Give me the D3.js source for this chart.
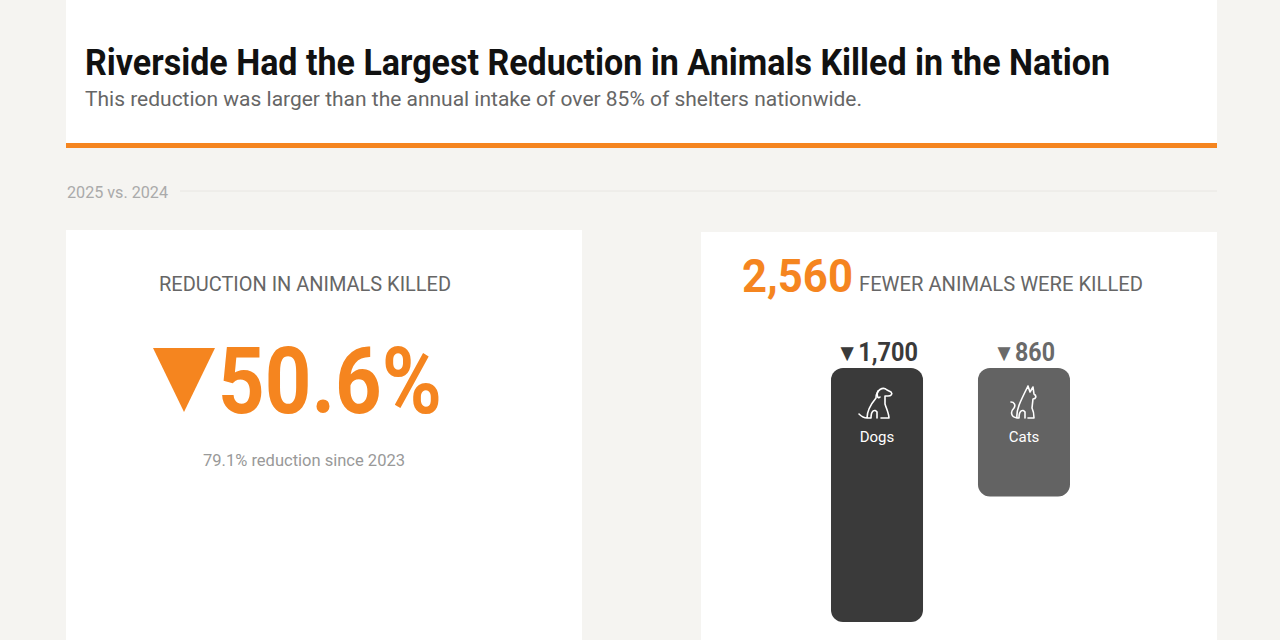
<!DOCTYPE html>
<meta charset="utf-8">
<style>
    body { margin: 0; background: #f5f4f1; }
    text { font-family: "Liberation Sans Narrow", "Roboto", sans-serif; }
</style>
<body>
<script src="https://d3js.org/d3.v7.min.js"></script>
<script>
    var categories = ["Dogs", "Cats"];
    var reductions = [1700, 860];
    var barColors = ["#3a3a3a", "#636363"];
    var labelColors = ["#3a3a3a", "#6a6a6a"];
    var totalReduction = 2560;
    var pctReduction = "50.6%";

    var width = 1280, height = 640;
    var svg = d3.select("body").append("svg")
        .attr("width", width).attr("height", height);

    svg.append("rect").attr("width", width).attr("height", height).attr("fill", "#f5f4f1");

    function fit(sel, len) {
        return sel.attr("textLength", len).attr("lengthAdjust", "spacingAndGlyphs");
    }

    // header
    svg.append("rect").attr("x", 66).attr("y", 0).attr("width", 1151).attr("height", 144).attr("fill", "#fff");
    svg.append("rect").attr("x", 66).attr("y", 143).attr("width", 1151).attr("height", 5).attr("fill", "#f5851f");
    fit(svg.append("text").attr("x", 85).attr("y", 75)
        .attr("font-size", 36).attr("font-weight", "bold").attr("fill", "#111")
        .text("Riverside Had the Largest Reduction in Animals Killed in the Nation"), 1025);
    fit(svg.append("text").attr("x", 85).attr("y", 106)
        .attr("font-size", 21).attr("fill", "#666")
        .text("This reduction was larger than the annual intake of over 85% of shelters nationwide."), 777);

    fit(svg.append("text").attr("x", 67).attr("y", 198).attr("font-size", 16).attr("fill", "#aaa").text("2025 vs. 2024"), 101);
    svg.append("line").attr("x1", 180).attr("x2", 1217).attr("y1", 191).attr("y2", 191)
        .attr("stroke", "#e8e6e2");

    // cards
    svg.append("rect").attr("x", 66).attr("y", 230).attr("width", 516).attr("height", 420).attr("fill", "#fff");
    svg.append("rect").attr("x", 701).attr("y", 232).attr("width", 516).attr("height", 420).attr("fill", "#fff");

    fit(svg.append("text").attr("x", 159).attr("y", 291)
        .attr("font-size", 20).attr("fill", "#666").text("REDUCTION IN ANIMALS KILLED"), 292);
    svg.append("path").attr("d", "M153,348 L215,348 L184,412 Z").attr("fill", "#f5851f");
    fit(svg.append("text").attr("x", 218).attr("y", 413)
        .attr("font-size", 92).attr("font-weight", "bold").attr("fill", "#f5851f").text(pctReduction), 224);
    fit(svg.append("text").attr("x", 203).attr("y", 466)
        .attr("font-size", 16).attr("fill", "#999").text("79.1% reduction since 2023"), 202);

    fit(svg.append("text").attr("x", 742).attr("y", 292).attr("font-size", 46).attr("font-weight", "bold")
        .attr("fill", "#f5851f").text(d3.format(",")(totalReduction)), 111);
    fit(svg.append("text").attr("x", 859).attr("y", 291).attr("font-size", 20).attr("fill", "#666")
        .text("FEWER ANIMALS WERE KILLED"), 284);

    // bars
    var x = d3.scaleBand().domain(categories).range([831, 1070]).paddingInner(0.374).paddingOuter(0);
    var y = d3.scaleLinear().domain([0, 1700]).range([0, 254]);
    var barTop = 368;

    categories.forEach(function(c, i) {
        var bx = x(c), bw = x.bandwidth(), cx = bx + bw / 2;
        svg.append("rect").attr("x", bx).attr("y", barTop).attr("width", bw)
            .attr("height", y(reductions[i])).attr("rx", 12).attr("fill", barColors[i]);
        var lab = svg.append("text").attr("x", cx).attr("y", 361).attr("text-anchor", "middle")
            .attr("font-size", 25).attr("font-weight", "bold").attr("fill", labelColors[i]);
        lab.append("tspan").attr("font-size", 24).text("▼");
        lab.append("tspan").text(d3.format(",")(reductions[i]));
        fit(lab, i === 0 ? 82 : 62);
        svg.append("text").attr("x", cx).attr("y", 442).attr("text-anchor", "middle")
            .attr("font-size", 15).attr("fill", "#fff").text(c);
        var g = svg.append("g").attr("transform", "translate(" + cx + ",404)")
            .attr("fill", "none").attr("stroke", "#fff").attr("stroke-width", 1.6)
            .attr("stroke-linecap", "round").attr("stroke-linejoin", "round");
        if (c === "Dogs") {
            g.append("path").attr("d", "M-1,-6 C-1,-14 6,-18 10,-14 L14,-12 C16,-10 14,-8 11,-8 L8,-8 L8,0 C10,6 12,10 12,14 L4,14 M0,14 L0,8 C-2,5 -6,6 -6,14 L-10,14 C-10,6 -6,0 -1,-6 M-10,14 C-14,14 -16,12 -18,10");
            g.append("path").attr("d", "M1,-13 C-1,-8 1,-5 3,-7");
        } else {
            g.append("path").attr("d", "M4,-18 L6,-12 L9,-17 L10,-10 C13,-8 12,-5 9,-5 L8,4 C10,8 10,12 10,14 L4,14 M1,14 L1,8 C-1,5 -5,6 -5,14 L-7,14 C-8,6 -4,-2 4,-18 M-7,14 C-13,13 -14,8 -10,4 C-8,1 -10,-2 -13,-2");
        }
    });
</script>
</body>
</html>
